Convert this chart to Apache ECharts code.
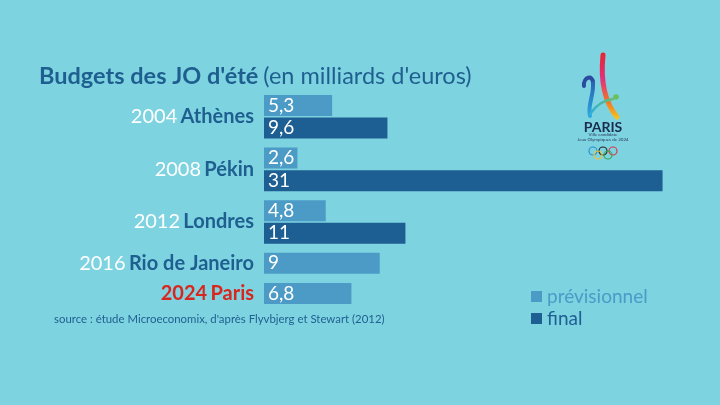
<!DOCTYPE html>
<html><head><meta charset="utf-8">
<script src="https://cdn.jsdelivr.net/npm/echarts@6/dist/echarts.min.js"></script>
<style>html,body{margin:0;padding:0;background:#7ed3e1}#c{width:720px;height:405px}</style>
</head><body><div id="c"></div>
<script>
// ---- data ----
const years = ['2004', '2008', '2012', '2016', '2024'];
const cities = ['Athènes', 'Pékin', 'Londres', 'Rio de Janeiro', 'Paris'];
const previsionnel = [5.3, 2.6, 4.8, 9, 6.8];
const finalBudget = [9.6, 31, 11, null, null];
const seriesNames = ['prévisionnel', 'final'];

// ---- layout (row slots on the category axis) ----
const slotCount = 51;
const prevSlot = [0, 14, 28, 42, 50];
const finalSlot = [6, 20, 34, null, null];
const labelSlot = [3, 17, 31, 42, 50];

const LIGHT = '#4b9bc6', DARK = '#1d5f92', NAME = '#1f5f8f', RED = '#d8271e';

const slots = [], prevData = [], finalData = [], slotLabel = [];
for (let i = 0; i < slotCount; i++) { slots.push('s' + i); prevData.push('-'); finalData.push('-'); slotLabel.push(''); }
for (let g = 0; g < cities.length; g++) {
  prevData[prevSlot[g]] = previsionnel[g];
  if (finalBudget[g] != null) finalData[finalSlot[g]] = finalBudget[g];
  const isParis = g === cities.length - 1;
  slotLabel[labelSlot[g]] = isParis
    ? '{pyr|' + years[g] + '} {pnm|' + cities[g] + '}'
    : '{yr|' + years[g] + '} {nm|' + cities[g] + '}';
}

const FONT = 'Lato';
const fmt = p => String(p.value).replace('.', ',');
const barLabel = { show: true, position: 'insideLeft', distance: 4, formatter: fmt, color: '#fff', fontSize: 19, fontFamily: FONT };

const chart = echarts.init(document.getElementById('c'));
const LG = echarts.graphic.LinearGradient;
chart.setOption({
  backgroundColor: '#7ed3e1',
  animation: false,
  title: {
    left: 34, top: 59,
    text: "{b|Budgets des JO d'été} {n|(en milliards d'euros)}",
    textStyle: { fontWeight: 'normal', rich: {
      b: { fontFamily: FONT, fontSize: 23.5, fontWeight: 'bold', color: NAME },
      n: { fontFamily: FONT, fontSize: 23.5, fontWeight: 'normal', color: NAME }
    } }
  },
  legend: {
    orient: 'vertical', left: 526, top: 282, itemWidth: 11, itemHeight: 11, itemGap: 3,
    icon: 'rect',
    data: [
      { name: seriesNames[0], textStyle: { color: LIGHT } },
      { name: seriesNames[1], textStyle: { color: DARK } }
    ],
    textStyle: { fontFamily: FONT, fontSize: 19 }
  },
  grid: { left: 264, top: 103.6, width: 450, height: 191.7, containLabel: false },
  xAxis: { type: 'value', min: 0, max: 35, show: false },
  yAxis: {
    type: 'category', data: slots, inverse: true,
    axisLine: { show: false }, axisTick: { show: false },
    axisLabel: {
      interval: 0, margin: 10,
      formatter: (v, i) => slotLabel[i],
      rich: {
        yr: { fontFamily: FONT, fontSize: 20, color: '#ffffff' },
        nm: { fontFamily: FONT, fontSize: 20, fontWeight: 'bold', color: NAME },
        pyr: { fontFamily: FONT, fontSize: 20, fontWeight: 'bold', color: RED },
        pnm: { fontFamily: FONT, fontSize: 20, fontWeight: 'bold', color: RED }
      }
    }
  },
  series: [
    { name: seriesNames[0], type: 'bar', clip: false, data: prevData, barWidth: 21, barGap: '-100%', itemStyle: { color: LIGHT }, label: barLabel },
    { name: seriesNames[1], type: 'bar', clip: false, data: finalData, barWidth: 21, barGap: '-100%', itemStyle: { color: DARK }, label: barLabel }
  ],
  graphic: [
    { type: 'text', left: 54, top: 314, style: { text: "source : étude Microeconomix, d'après Flyvbjerg et Stewart (2012)", fill: NAME, font: '11.4px ' + FONT } },
    // Paris 2024 logo (approximation)
    { type: 'bezierCurve', shape: { x1: 603, y1: 55, cpx1: 600, cpy1: 85, cpx2: 607, cpy2: 105, x2: 617, y2: 117 }, style: { fill: null, lineWidth: 5, lineCap: 'round',
      stroke: new LG(0, 0, 0, 1, [{ offset: 0, color: '#e6262f' }, { offset: 0.4, color: '#e2307e' }, { offset: 0.75, color: '#f37a22' }, { offset: 1, color: '#f8c71c' }]) } },
    { type: 'bezierCurve', shape: { x1: 584, y1: 86, cpx1: 583, cpy1: 77, cpx2: 593, cpy2: 74, x2: 593, y2: 83 }, style: { fill: null, lineWidth: 4, lineCap: 'round', stroke: '#2a4b9e' } },
    { type: 'bezierCurve', shape: { x1: 593, y1: 83, cpx1: 594, cpy1: 96, cpx2: 587, cpy2: 106, x2: 590, y2: 116 }, style: { fill: null, lineWidth: 4, lineCap: 'round',
      stroke: new LG(0, 0, 0, 1, [{ offset: 0, color: '#2a5fb0' }, { offset: 1, color: '#2aaee3' }]) } },
    { type: 'bezierCurve', shape: { x1: 590, y1: 114, cpx1: 597, cpy1: 104, cpx2: 604, cpy2: 100, x2: 613, y2: 99 }, style: { fill: null, lineWidth: 2.5, lineCap: 'round',
      stroke: new LG(0, 0, 1, 0, [{ offset: 0, color: '#2aaee3' }, { offset: 1, color: '#6cc067' }]) } },
    { type: 'circle', shape: { cx: 616, cy: 97, r: 2.8 }, style: { fill: '#6cbf5b' } },
    { type: 'text', x: 603, y: 127, style: { text: 'PARIS', fill: '#1b2b50', font: 'bold 14px ' + FONT, align: 'center', verticalAlign: 'middle' } },
    { type: 'text', x: 603, y: 135, style: { text: 'Ville candidate', fill: '#2b3b5a', font: '4.5px ' + FONT, align: 'center', verticalAlign: 'middle' } },
    { type: 'text', x: 603, y: 139.5, style: { text: 'Jeux Olympiques de 2024', fill: '#2b3b5a', font: '4.5px ' + FONT, align: 'center', verticalAlign: 'middle' } },
    { type: 'circle', shape: { cx: 593, cy: 151, r: 4 }, style: { fill: null, stroke: '#2a8fd0', lineWidth: 1.2 } },
    { type: 'circle', shape: { cx: 603, cy: 151, r: 4 }, style: { fill: null, stroke: '#222222', lineWidth: 1.2 } },
    { type: 'circle', shape: { cx: 613, cy: 151, r: 4 }, style: { fill: null, stroke: '#d93a4a', lineWidth: 1.2 } },
    { type: 'circle', shape: { cx: 598, cy: 155, r: 4 }, style: { fill: null, stroke: '#f2c230', lineWidth: 1.2 } },
    { type: 'circle', shape: { cx: 608, cy: 155, r: 4 }, style: { fill: null, stroke: '#3aa655', lineWidth: 1.2 } }
  ]
});
</script></body></html>
